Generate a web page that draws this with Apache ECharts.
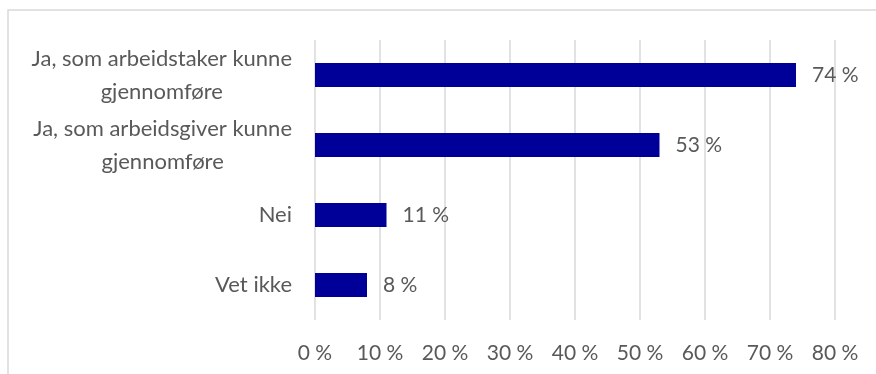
<!DOCTYPE html>
<html>
<head>
<meta charset="utf-8">
<script src="https://cdn.jsdelivr.net/npm/echarts@6/dist/echarts.min.js"></script>
<style>
  html, body { margin: 0; padding: 0; background: #fff; }
  #chart { width: 876px; height: 374px; }
</style>
</head>
<body>
<div id="chart"></div>
<script>
// kategorier (ovenfra og ned) og andeler i prosent
var categories = ['Ja, som arbeidstaker kunne\ngjennomføre', 'Ja, som arbeidsgiver kunne\ngjennomføre', 'Nei', 'Vet ikke'];
var values = [74, 53, 11, 8];
var axisMin = 0;
var axisMax = 80;
var axisStep = 10;

var labelFont = 'Lato, "Open Sans", sans-serif';
var labelColor = '#595959';

var chart = echarts.init(document.getElementById('chart'));

var option = {
    animation: false,
    graphic: [
        {
            type: 'rect',
            shape: { x: 8, y: 10, width: 900, height: 400 },
            style: { fill: 'none', stroke: '#d9d9d9', lineWidth: 1.5 },
            silent: true
        }
    ],
    grid: {
        left: 315,
        right: 41,
        top: 40,
        bottom: 54
    },
    xAxis: {
        type: 'value',
        min: axisMin,
        max: axisMax,
        interval: axisStep,
        axisLine: { show: false },
        axisTick: { show: false },
        splitLine: { show: true, lineStyle: { color: '#d9d9d9', width: 1.5 } },
        axisLabel: {
            formatter: '{value} %',
            margin: 23,
            fontSize: 21,
            fontFamily: labelFont,
            color: labelColor
        }
    },
    yAxis: {
        type: 'category',
        data: categories,
        inverse: true,
        axisLine: { show: false },
        axisTick: { show: false },
        axisLabel: {
            margin: 23,
            formatter: function (val) {
                // hver linje sentreres i blokken, blokken høyrejusteres
                return val.split('\n').map(function (l) { return '{c|' + l + '}'; }).join('\n');
            },
            rich: {
                c: {
                    align: 'center',
                    fontSize: 22,
                    fontFamily: labelFont,
                    color: labelColor,
                    lineHeight: 33
                }
            }
        }
    },
    series: [
        {
            type: 'bar',
            data: values,
            barWidth: 24,
            itemStyle: { color: '#000099' },
            label: {
                show: true,
                position: 'right',
                distance: 16,
                formatter: '{c} %',
                fontSize: 21,
                fontFamily: labelFont,
                color: labelColor
            }
        }
    ]
};
chart.setOption(option);
</script>
</body>
</html>
